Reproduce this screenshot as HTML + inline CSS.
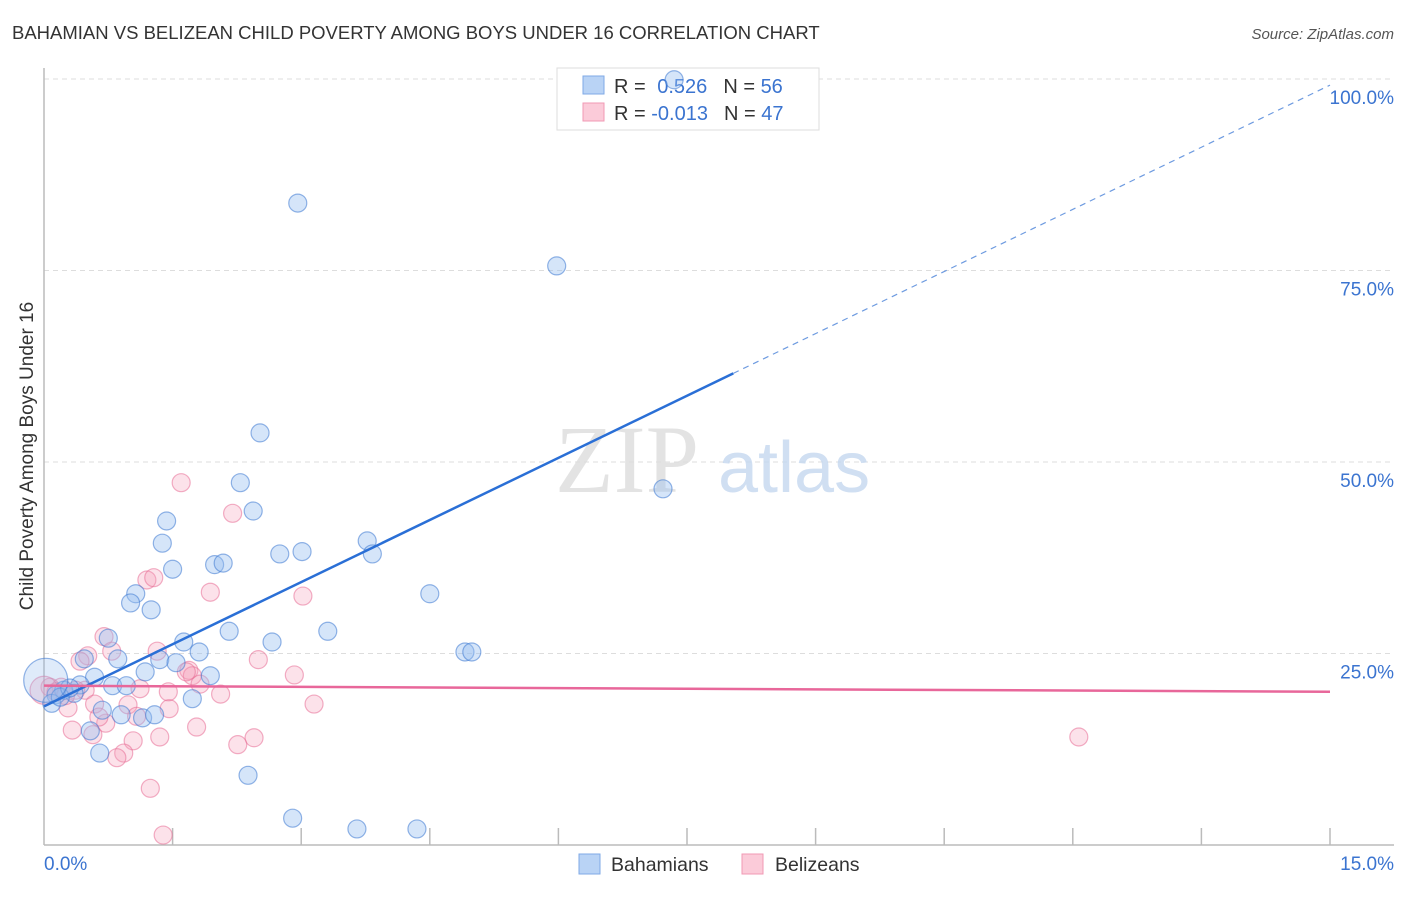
<!DOCTYPE html>
<html><head><meta charset="utf-8"><style>
body{margin:0;background:#fff;font-family:"Liberation Sans",sans-serif}
</style></head><body>
<svg width="1406" height="892" viewBox="0 0 1406 892" xmlns="http://www.w3.org/2000/svg">
<text x="12" y="39" font-size="18.5" fill="#333">BAHAMIAN VS BELIZEAN CHILD POVERTY AMONG BOYS UNDER 16 CORRELATION CHART</text>
<text x="1394" y="39" font-size="15" fill="#555" font-style="italic" text-anchor="end">Source: ZipAtlas.com</text>
<g id="grid"></g>
<g>
<text x="555" y="492" font-size="96" fill="#ddd" font-family="Liberation Serif,serif" opacity="0.8">ZIP</text>
<text x="718" y="492" font-size="72" fill="#c5d8f0" opacity="0.8">atlas</text>
</g>
<line x1="44" y1="68" x2="44" y2="845" stroke="#bbb" stroke-width="1.5"/>
<line x1="44" y1="845" x2="1394" y2="845" stroke="#bbb" stroke-width="1.5"/>
<g id="ticks"></g>
<g>
<rect x="557" y="68" width="262" height="62" fill="#fff" stroke="#ddd"/>
<rect x="583" y="76" width="21" height="18" fill="#b9d3f5" stroke="#7fa9e6"/>
<rect x="583" y="103" width="21" height="18" fill="#fbcbd9" stroke="#f09ab4"/>
<text x="614" y="93" font-size="20" fill="#333">R = <tspan fill="#3b74d0" dx="6">0.526</tspan><tspan dx="16">N = </tspan><tspan fill="#3b74d0">56</tspan></text>
<text x="614" y="120" font-size="20" fill="#333">R = <tspan fill="#3b74d0">-0.013</tspan><tspan dx="16">N = </tspan><tspan fill="#3b74d0">47</tspan></text>
</g>
<g id="pts"></g>
<g id="lines"></g>
<text transform="translate(33,456) rotate(-90)" font-size="19" fill="#333" text-anchor="middle">Child Poverty Among Boys Under 16</text>
<text x="44" y="870" font-size="19" fill="#3b74d0">0.0%</text>
<text x="1394" y="870" font-size="19" fill="#3b74d0" text-anchor="end">15.0%</text>
<g>
<rect x="579" y="854" width="21" height="20" fill="#b9d3f5" stroke="#7fa9e6"/>
<text x="611" y="871" font-size="19.5" fill="#333">Bahamians</text>
<rect x="742" y="854" width="21" height="20" fill="#fbcbd9" stroke="#f09ab4"/>
<text x="775" y="871" font-size="19.5" fill="#333">Belizeans</text>
</g>
</svg>
<script>
const yTicks=[25,50,75,100];
const yTickLabels=["25.0%","50.0%","75.0%","100.0%"];
const xTicks=[0,1.5,3,4.5,6,7.5,9,10.5,12,13.5,15];
const blueX=[7.35,2.96,5.98,2.52,2.29,7.22,2.44,1.43,1.38,3.77,2.75,3.01,3.83,1.50,1.99,2.09,4.50,1.07,1.01,1.25,2.16,3.31,0.75,1.63,2.66,1.81,4.91,4.99,1.35,0.86,1.54,1.18,1.94,0.47,0.59,0.42,0.80,0.96,0.23,0.35,0.14,0.09,0.68,1.73,0.90,1.15,1.29,0.54,0.65,2.38,2.90,3.65,4.35,0.19,0.30,0.02];
const blueY=[99.9,83.8,75.6,53.8,47.3,46.5,43.6,42.3,39.4,39.7,38.0,38.3,38.0,36.0,36.6,36.8,32.8,32.8,31.6,30.7,27.9,27.9,27.0,26.5,26.5,25.2,25.2,25.2,24.2,24.3,23.8,22.6,22.1,24.3,21.9,20.9,20.8,20.8,20.2,19.8,19.6,18.5,17.6,19.1,17.0,16.6,17.0,14.9,12.0,9.1,3.5,2.1,2.1,19.3,20.5,21.5];
const blueR=[9,9,9,9,9,9,9,9,9,9,9,9,9,9,9,9,9,9,9,9,9,9,9,9,9,9,9,9,9,9,9,9,9,9,9,9,9,9,9,9,9,9,9,9,9,9,9,9,9,9,9,9,9,9,9,22];
const pinkX=[1.60,2.20,1.94,3.02,1.20,1.28,0.70,1.32,0.79,0.51,0.42,1.69,2.50,2.92,1.73,1.82,1.12,0.48,0.20,2.06,0.59,0.98,0.28,3.15,0.72,0.64,1.08,1.78,1.46,0.33,1.35,0.57,1.04,2.45,2.26,0.93,0.85,1.24,1.39,12.07,0.07,0.14,0.37,1.45,1.66,0.00,0.25];
const pinkY=[47.3,43.3,33.0,32.5,34.6,34.9,27.2,25.3,25.3,24.7,24.0,22.8,24.2,22.2,22.1,21.0,20.4,20.2,20.6,19.7,18.4,18.3,17.9,18.4,15.9,16.7,16.8,15.4,17.8,15.0,14.1,14.4,13.6,14.0,13.1,12.0,11.4,7.4,1.3,14.1,20.6,20.0,20.2,20.0,22.6,20.2,19.5];
const pinkR=[9,9,9,9,9,9,9,9,9,9,9,9,9,9,9,9,9,9,9,9,9,9,9,9,9,9,9,9,9,9,9,9,9,9,9,9,9,9,9,9,9,9,9,9,9,14,9];
const blueTrend=[18.1,99.2];
const pinkTrend=[20.8,20.0];
const blueSolidEnd=8.04;
const NS="http://www.w3.org/2000/svg";
const X0=44,X1=1330,Y0=845,Y100=79;
const sx=v=>X0+(X1-X0)*v/15;
const sy=v=>Y0-(Y0-Y100)*v/100;
function mk(tag,attrs,parent){const e=document.createElementNS(NS,tag);for(const k in attrs)e.setAttribute(k,attrs[k]);parent.appendChild(e);return e;}
const grid=document.getElementById('grid');
yTicks.forEach((t,i)=>{
 const l=mk('line',{x1:44,x2:1394,y1:sy(t),y2:sy(t),stroke:'#ddd','stroke-dasharray':'5,4'},grid);
 
 
 const tx=mk('text',{x:1394,y:sy(t)+25,'font-size':19,fill:'#3b74d0','text-anchor':'end'},grid);
 tx.textContent=yTickLabels[i];
 
 
});
const ticks=document.getElementById('ticks');
xTicks.forEach(t=>{
 if(t===0)return;
 const l=mk('line',{x1:sx(t),x2:sx(t),y1:828,y2:845,stroke:'#bbb','stroke-width':1.5},ticks);
 
 
});
const pts=document.getElementById('pts');
pinkX.forEach((x,i)=>{
 const c=mk('circle',{cx:sx(x),cy:sy(pinkY[i]),r:pinkR[i],fill:'rgba(244,160,186,0.3)',stroke:'rgba(232,110,150,0.55)','stroke-width':1.2},pts);
 
 
});
blueX.forEach((x,i)=>{
 const big=blueR[i]>12;
 const c=mk('circle',{cx:sx(x),cy:sy(blueY[i]),r:blueR[i],fill:big?'rgba(150,190,240,0.3)':'rgba(150,190,240,0.4)',stroke:'rgba(60,120,210,0.55)','stroke-width':1.2},pts);
 
 
});
const lines=document.getElementById('lines');
const bAt=x=>blueTrend[0]+(blueTrend[1]-blueTrend[0])*x/15;
const b1=mk('line',{x1:sx(0),y1:sy(blueTrend[0]),x2:sx(blueSolidEnd),y2:sy(bAt(blueSolidEnd)),stroke:'#2a6fd6','stroke-width':2.5},lines);


const b2=mk('line',{x1:sx(blueSolidEnd),y1:sy(bAt(blueSolidEnd)),x2:sx(15),y2:sy(blueTrend[1]),stroke:'#6e9be0','stroke-width':1.2,'stroke-dasharray':'6,5'},lines);


const p1=mk('line',{x1:sx(0),y1:sy(pinkTrend[0]),x2:sx(15),y2:sy(pinkTrend[1]),stroke:'#e8679a','stroke-width':2.5},lines);


</script>
</body></html>
